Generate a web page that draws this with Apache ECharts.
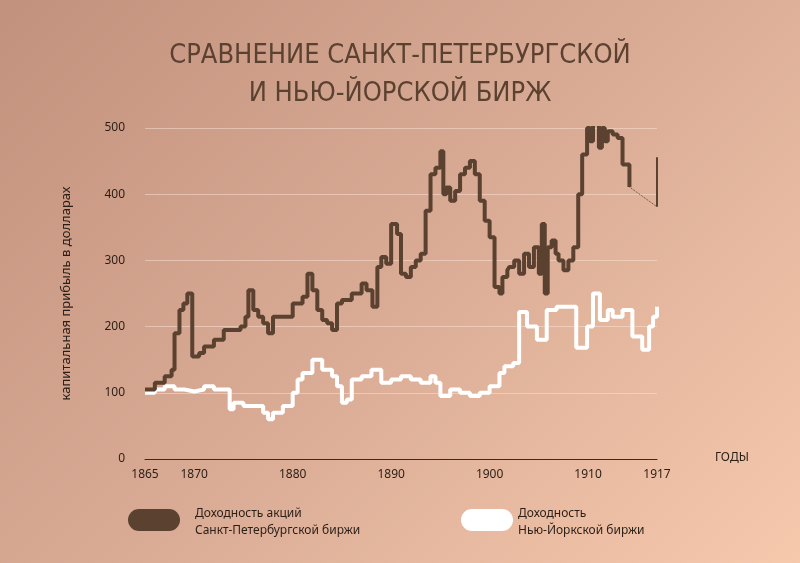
<!DOCTYPE html>
<html><head><meta charset="utf-8">
<script src="https://cdn.jsdelivr.net/npm/echarts@6/dist/echarts.min.js"></script>
<style>html,body{margin:0;padding:0}#c{width:800px;height:563px;background:linear-gradient(135deg,#c2917d 0%,#d9ab95 50%,#f6c9ad 100%)}</style>
</head><body><div id="c"></div>
<script>
const spbYears=[1865,1866,1867,1867.7,1868,1868.5,1868.9,1869.3,1869.8,1870.5,1871,1872,1873,1874,1874.7,1875.2,1875.5,1876,1876.5,1877,1877.5,1878,1879,1880,1881,1881.5,1882,1882.5,1883,1883.5,1884,1884.5,1885,1886,1887,1887.5,1888.1,1888.6,1889,1889.5,1890,1890.6,1891,1891.5,1892,1892.5,1893,1893.5,1894,1894.5,1895,1895.3,1895.6,1896,1896.5,1897,1897.5,1898,1898.5,1899,1899.5,1900,1900.5,1901,1901.3,1901.8,1902,1902.5,1903,1903.5,1904,1904.5,1905,1905.3,1905.6,1905.9,1906.3,1906.7,1907,1907.5,1908,1908.5,1909,1909.4,1909.9,1910.2,1910.5,1910.8,1911.1,1911.4,1911.7,1912,1912.5,1913,1913.5,1914.2];
const spbValues=[105,115,125,135,190,225,235,250,155,160,170,180,195,195,200,215,255,225,215,205,190,215,215,235,245,280,255,225,210,205,195,235,240,250,265,255,230,290,305,295,355,340,280,275,290,300,310,375,430,440,465,400,410,390,405,430,440,450,430,390,360,335,260,250,275,285,290,300,280,310,290,320,280,355,250,320,330,310,300,285,300,320,400,460,500,480,520,550,470,500,480,495,490,485,445,411];
const dotYears=[1914.2,1917];
const dotValues=[411,381];
const barYears=[1917,1917];
const barValues=[381,456];
const nyYears=[1865,1866,1867,1868,1869,1870,1871,1872,1873,1873.6,1874,1875,1876,1877,1877.5,1878,1879,1880,1880.5,1881,1882,1883,1884,1884.5,1885,1885.5,1886,1887,1888,1889,1890,1891,1892,1893,1894,1894.5,1895,1896,1897,1898,1899,1900,1901,1901.5,1902.4,1903,1903.8,1904.8,1905.8,1906.8,1907.8,1908.8,1909.9,1910.5,1911.2,1912,1912.5,1913.5,1914.5,1915.5,1916.2,1916.6,1917];
const nyValues=[100,105,110,105,102,105,110,105,105,75,85,80,80,70,60,70,80,100,120,130,150,135,125,110,85,90,120,125,135,115,120,125,120,115,125,115,95,105,100,95,100,110,130,140,145,222,200,180,225,230,230,168,200,250,210,225,215,225,185,165,200,215,230,210];
const tickLabels=[1865,1870,1880,1890,1900,1910,1917];
const pair=(a,b)=>a.map((x,i)=>[x,b[i]]);
const ch=echarts.init(document.getElementById('c'));
const brown='#5b4130';
ch.setOption({
 backgroundColor:'transparent',
 title:{text:'СРАВНЕНИЕ САНКТ-ПЕТЕРБУРГСКОЙ\nИ НЬЮ-ЙОРСКОЙ БИРЖ',left:'center',top:32,
  textStyle:{fontFamily:'DejaVu Sans Condensed',fontWeight:'normal',fontSize:27,color:brown,lineHeight:38,align:'center'}},
 grid:{left:145,right:143,top:128,bottom:104},
 xAxis:{type:'value',min:1865,max:1917,interval:1,
  axisLine:{lineStyle:{color:'#3a2a20',width:1}},axisTick:{show:false},splitLine:{show:false},
  axisLabel:{color:'#2a1e16',fontFamily:'Noto Sans',fontSize:12,margin:10,showMinLabel:true,showMaxLabel:true,
   formatter:v=>tickLabels.includes(Math.round(v))?String(Math.round(v)):''}},
 yAxis:{type:'value',min:0,max:500,interval:100,
  axisLine:{show:false},axisTick:{show:false},
  splitLine:{lineStyle:{color:'rgba(255,235,225,0.45)',width:1}},
  axisLabel:{color:'#2a1e16',fontFamily:'Noto Sans',fontSize:12,margin:20},
  name:'капитальная прибыль в долларах',nameLocation:'middle',nameGap:72,nameRotate:90,
  nameTextStyle:{color:'#2a1e16',fontFamily:'Noto Sans',fontSize:13}},
 series:[
  {type:'line',step:'end',clip:false,data:pair(nyYears,nyValues),symbol:'none',lineStyle:{color:'#fff',width:4}},
  {type:'line',step:'end',clip:false,data:pair(spbYears,spbValues),symbol:'none',lineStyle:{color:brown,width:4}},
  {type:'line',clip:false,data:pair(dotYears,dotValues),symbol:'none',lineStyle:{color:brown,width:1,type:'dotted'}},
  {type:'line',clip:false,data:pair(barYears,barValues),symbol:'none',lineStyle:{color:brown,width:2}}
 ],
 graphic:[
  {type:'text',left:715,top:452,style:{text:'ГОДЫ',fill:'#2a1e16',font:'12px Noto Sans'}},
  {type:'rect',shape:{x:128,y:509,width:52,height:22,r:11},style:{fill:brown}},
  {type:'text',left:195,top:505,style:{text:'Доходность акций\nСанкт-Петербургской биржи',fill:'#2a1e16',font:'12px Noto Sans',lineHeight:17}},
  {type:'rect',shape:{x:461,y:509,width:52,height:22,r:11},style:{fill:'#fff'}},
  {type:'text',left:518,top:505,style:{text:'Доходность\nНью-Йоркской биржи',fill:'#2a1e16',font:'12px Noto Sans',lineHeight:17}}
 ]
});
</script></body></html>
